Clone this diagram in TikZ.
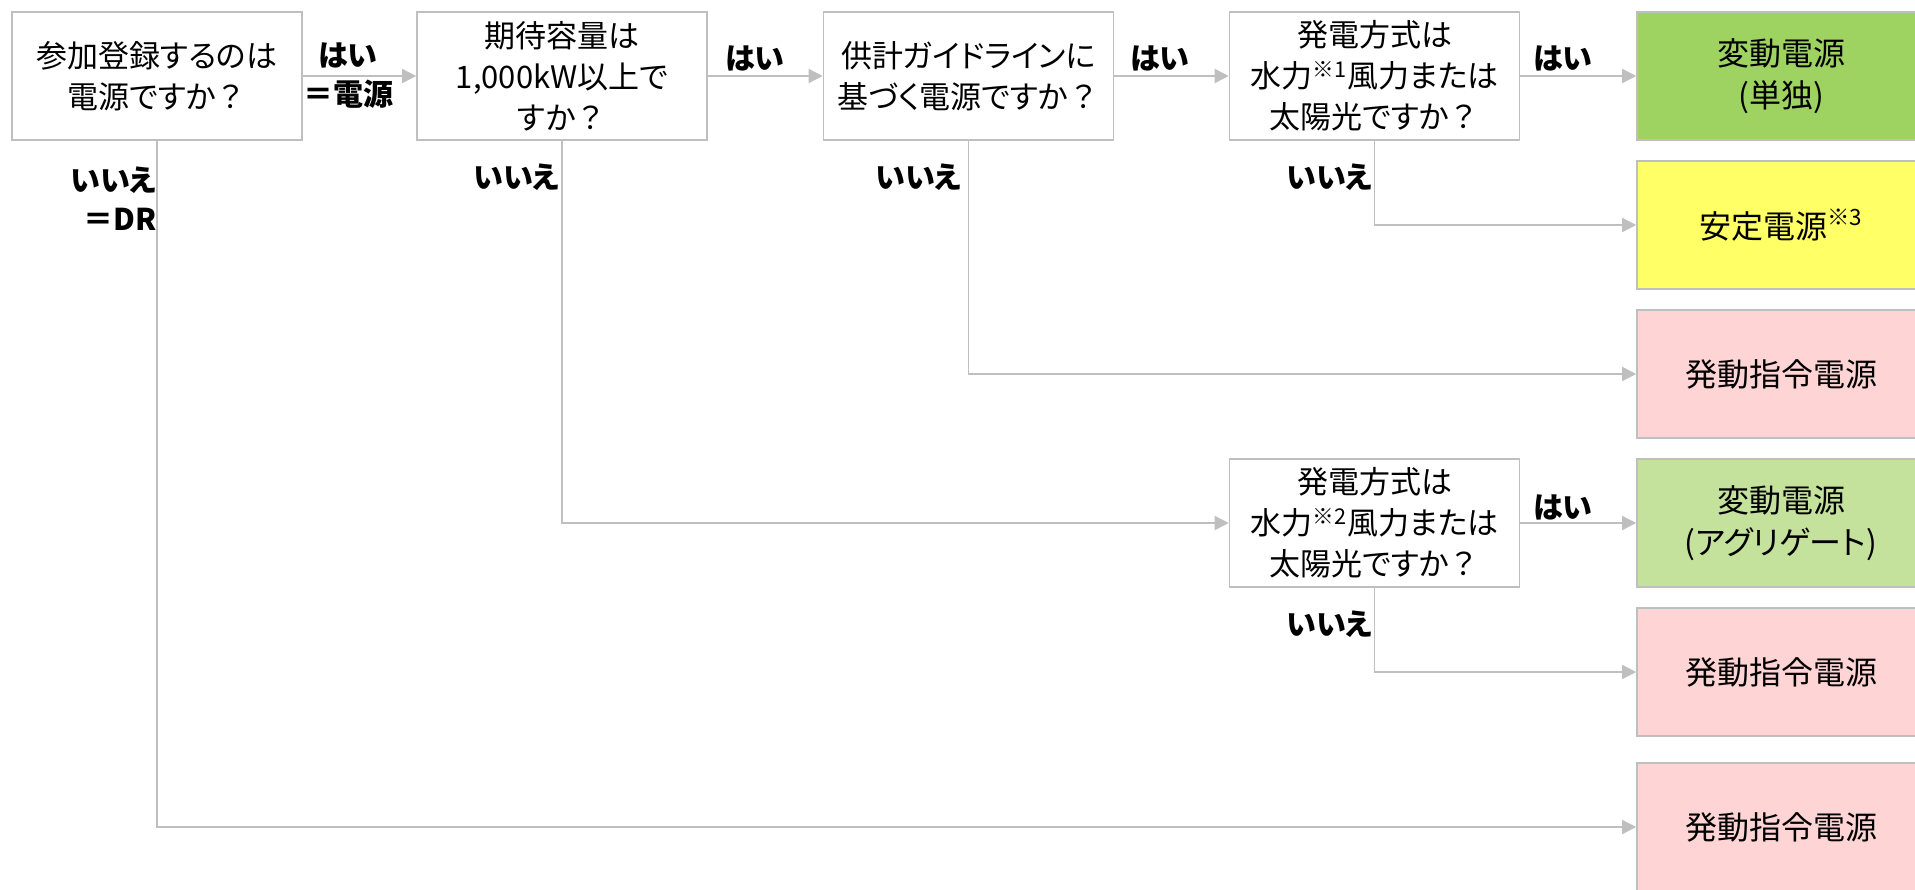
\documentclass[tikz,border=0pt]{standalone}
\usepackage{fontspec}
\setmainfont{Noto Sans CJK JP}[RawFeature=+palt]
\usetikzlibrary{arrows.meta,calc}
\definecolor{lineg}{HTML}{BFBFBF}
\definecolor{gstrong}{HTML}{9ED362}
\definecolor{glight}{HTML}{C4E29C}
\definecolor{yel}{HTML}{FFFF66}
\definecolor{pink}{HTML}{FFD4D4}
\newcommand\fwq{{\addfontfeature{RawFeature=-palt}？}}
\begin{document}
\begin{tikzpicture}[x=0.5pt,y=-0.5pt,
  q/.style={draw=lineg, line width=0.8pt, fill=white, minimum width=145pt, minimum height=64pt,
    inner sep=0pt, align=center, font=\fontsize{15.5}{20.5}\selectfont},
  res/.style={q, minimum width=144pt, font=\fontsize{16}{21}\selectfont},
  conn/.style={draw=lineg, line width=0.75pt, -{Triangle[length=7pt,width=7pt]}},
  lab/.style={font=\fontsize{15}{19.5}\selectfont\bfseries, inner sep=0pt, align=center}
]
\useasboundingbox (0,0) rectangle (1915,889);
\node[q] (q1) at (157,76) {参加登録するのは\\電源ですか\fwq};
\node[q] (q2) at (562,76) {期待容量は\\1,000kW以上で\\すか\fwq};
\node[q] (q3) at (968.5,76) {供計ガイドラインに\\基づく電源ですか\fwq};
\node[q] (q4) at (1374.5,76) {発電方式は\\水力\textsuperscript{※1}風力または\\太陽光ですか\fwq};
\node[q] (q5) at (1374.5,523) {発電方式は\\水力\textsuperscript{※2}風力または\\太陽光ですか\fwq};
\node[res, fill=gstrong] (r1) at (1781,76) {変動電源\\(単独)};
\node[res, fill=yel] (r2) at (1781,225) {安定電源\textsuperscript{※3}};
\node[res, fill=pink] (r3) at (1781,374) {発動指令電源};
\node[res, fill=glight] (r4) at (1781,523) {変動電源\\(アグリゲート)};
\node[res, fill=pink] (r5) at (1781,672) {発動指令電源};
\node[res, fill=pink] (r6) at (1781,827) {発動指令電源};
\draw[conn] (q1) -- (q2);
\draw[conn] (q2) -- (q3);
\draw[conn] (q3) -- (q4);
\draw[conn] (q4) -- (r1);
\draw[conn] (q5) -- (r4);
\draw[conn] (q1.south) |- (r6.west);
\draw[conn] (q2.south) |- (q5.west);
\draw[conn] (q3.south) |- (r3.west);
\draw[conn] (q4.south) |- (r2.west);
\draw[conn] (q5.south) |- (r5.west);
\node[lab] (y1) at (348,76) {はい\\＝電源};
\node[lab] (y2) at (755,59) {はい};
\node[lab] (y3) at (1160,59) {はい};
\node[lab] (y4) at (1563,59) {はい};
\node[lab] (y5) at (1563,507) {はい};
\node[lab, anchor=east, align=right] (n1) at (157,199) {いいえ\\＝DR};
\node[lab, anchor=east] (n2) at (560,177) {いいえ};
\node[lab, anchor=east] (n3) at (962,177) {いいえ};
\node[lab, anchor=east] (n4) at (1373,177) {いいえ};
\node[lab, anchor=east] (n5) at (1373,624) {いいえ};
\end{tikzpicture}
\end{document}
